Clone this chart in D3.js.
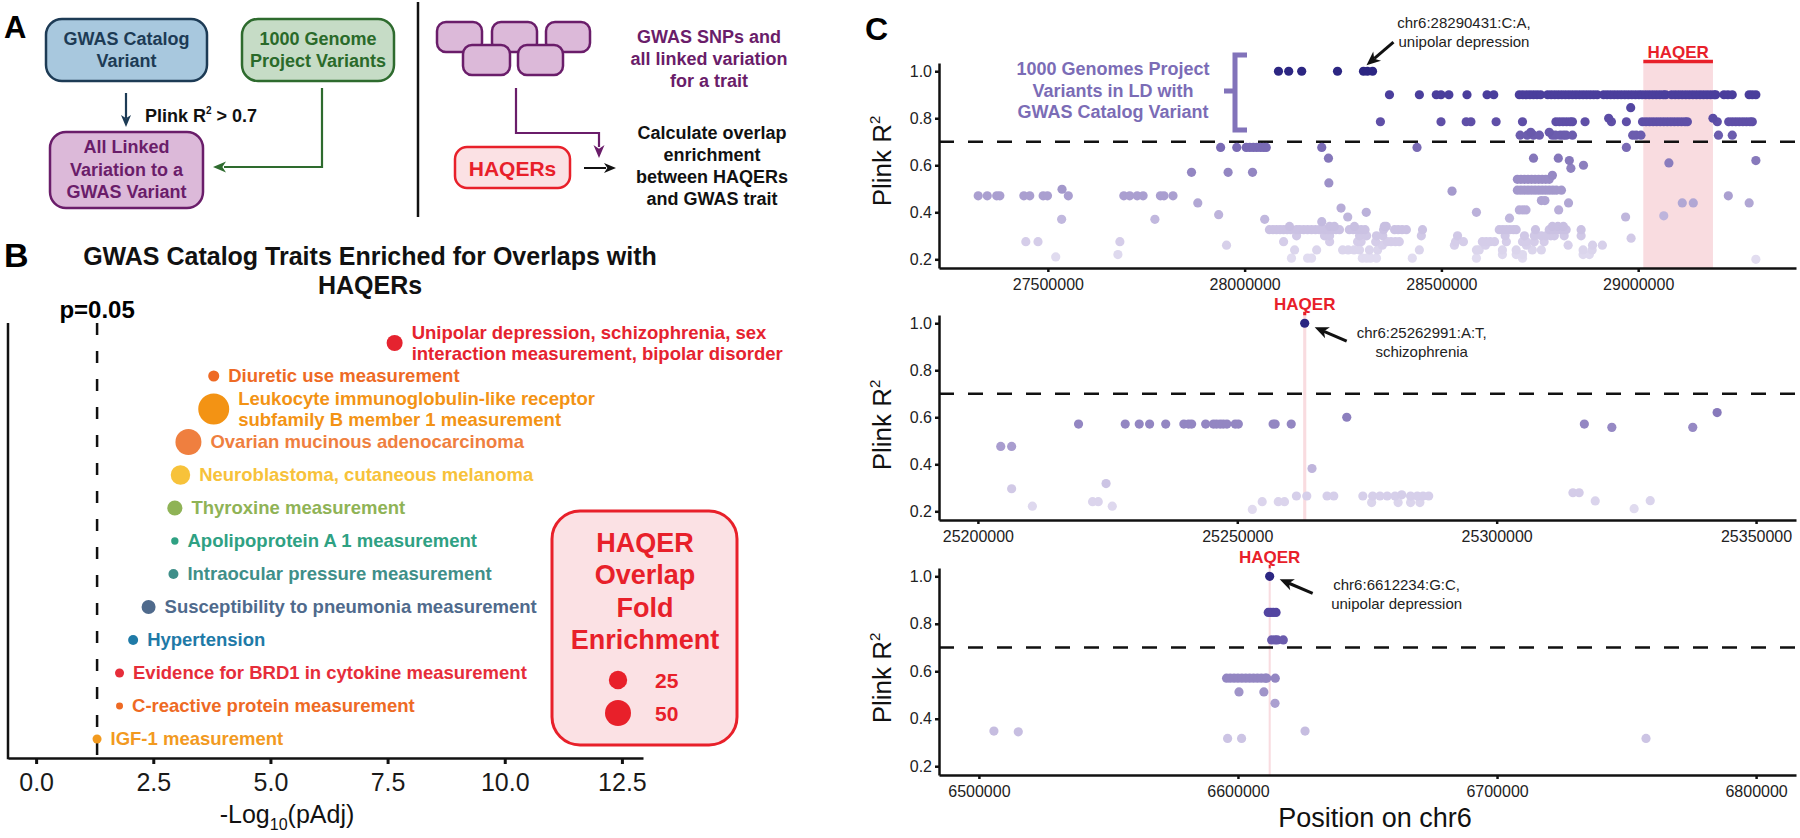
<!DOCTYPE html>
<html><head><meta charset="utf-8">
<script src="https://cdn.jsdelivr.net/npm/d3@7/dist/d3.min.js"></script>
<style>
html,body{margin:0;padding:0;background:#fff;}
svg{display:block;}
svg text{font-family:"Liberation Sans",Arial,Helvetica,sans-serif;}
</style></head><body>
<svg id="fig" width="1800" height="838"></svg>
<script>
// ================= DATA =================
// Panel B: GWAS traits enriched for HAQER overlaps
const traitLabels = [
  "Unipolar depression, schizophrenia, sex\ninteraction measurement, bipolar disorder",
  "Diuretic use measurement",
  "Leukocyte immunoglobulin-like receptor\nsubfamily B member 1 measurement",
  "Ovarian mucinous adenocarcinoma",
  "Neuroblastoma, cutaneous melanoma",
  "Thyroxine measurement",
  "Apolipoprotein A 1 measurement",
  "Intraocular pressure measurement",
  "Susceptibility to pneumonia measurement",
  "Hypertension",
  "Evidence for BRD1 in cytokine measurement",
  "C-reactive protein measurement",
  "IGF-1 measurement"
];
const traitNegLog10P = [7.65, 3.79, 3.79, 3.25, 3.08, 2.96, 2.96, 2.93, 2.40, 2.07, 1.78, 1.78, 1.30];
const traitFoldEnrichment = [19, 9, 71, 50, 28, 17, 4, 7.4, 14.5, 7.4, 6, 3.6, 6];
const sizeLegendValues = [25, 50];
const bTickValues = [0, 2.5, 5, 7.5, 10, 12.5];
const pThreshold = 0.05;

// Panel C: LD (Plink R2) of 1000 Genomes variants, positions in kb on chr6
const locusTopRows = [
  [1.0, [28086,28112,28145,28236,28302,28312,28325]],
  [0.9, [28368,28444,28487,28499,28519,28565,28616,28633,28698,28707,28716,28725,28734,28743,28752,28770,28779,28788,28797,28806,28815,28824,28833,28842,28851,28860,28869,28878,28887,28896,28912,28921,28930,28939,28948,28957,28966,28975,28984,28993,29002,29010,29019,29028,29037,29046,29055,29064,29070,29085,29094,29103,29112,29121,29130,29139,29148,29157,29166,29175,29184,29193,29197,29218,29228,29239,29282,29290,29299]],
  [0.845, [28981]],
  [0.8, [28925,29190]],
  [0.785, [28345,28499,28563,28575,28639,28706,28791,28800,28809,28818,28827,28833,28865,28932,28970,29011,29020,29029,29038,29047,29056,29065,29074,29083,29092,29101,29110,29119,29125,29201,29230,29239,29248,29257,29266,29275,29284,29290]],
  [0.74, [28727,28774]],
  [0.728, [28700,28718,28734,28749,28782,28790,28802,28810,28817,28833,28986,28995,29007,29204,29239]],
  [0.676, [27939,27980,28004,28013,28022,28031,28040,28048,28055,28196,28438,28970]],
  [0.63, [28213,28734,28797]],
  [0.62, [28825,29299]],
  [0.61, [29078]],
  [0.6, [28861]],
  [0.587, [28829]],
  [0.57, [27865,27958,28020]],
  [0.557, [28782]],
  [0.54, [28693,28702,28711,28720,28729,28738,28747,28756,28765,28774]],
  [0.525, [28214]],
  [0.498, [27536]],
  [0.494, [28693,28702,28711,28720,28729,28738,28747,28756,28765,28774,28783,28792,28805]],
  [0.49, [28527]],
  [0.47, [27323,27346,27370,27378,27439,27454,27488,27499,27552,27693,27708,27727,27742,27786,27795,27818,29229]],
  [0.45, [28754,28763]],
  [0.44, [27881,28823,29112,29140,29282]],
  [0.418, [28245]],
  [0.41, [28698,28707,28715,28798]],
  [0.40, [28309,28589]],
  [0.39, [27934]],
  [0.385, [29065]],
  [0.38, [28262,28968]],
  [0.375, [28673]],
  [0.37, [27535,27772,28051]],
  [0.36, [28196]],
  [0.34, [28114,28216,28228,28279,28355,28360,28782,28796,28810]],
  [0.326, [28063,28072,28081,28090,28099,28108,28117,28132,28140,28150,28160,28170,28180,28190,28203,28212,28222,28232,28241,28266,28276,28286,28296,28306,28353,28381,28390,28400,28411,28452,28647,28656,28665,28674,28683,28690,28739,28774,28783,28792,28801,28810,28817,28855]],
  [0.30, [28132,28203,28216,28292,28310,28335,28351,28449,28541,28662,28711,28736,28754,28766,28778,28787,28812,28855]],
  [0.29, [28982]],
  [0.275, [27444,27475,27683,28099,28216,28287,28296,28333,28362,28372,28383,28393,28536,28556,28604,28614,28624,28635,28665,28706,28716,28736,28761]],
  [0.26, [27954,28350,28533,28612,28716,28822,28884,28909]],
  [0.24, [28127,28183,28249,28263,28278,28292,28317,28338,28444,28589,28596,28655,28690,28731,28754,28860,28883]],
  [0.22, [27678,28655,28690,28706,28860,28876]],
  [0.21, [27520]],
  [0.205, [28119,28160,28170,28299,28310,28320,28335,28426,28589,28706]],
  [0.2, [29299]]
];
const locusMidRows = [
  [1.0, [25262.991]],
  [0.62, [25342.5]],
  [0.6, [25271.1]],
  [0.571, [25219.4,25228.4,25231.1,25233.1,25236.2,25239.7,25240.6,25241.2,25243.9,25245.4,25246.0,25246.7,25247.3,25248.0,25249.6,25250.2,25256.9,25257.3,25260.4,25316.9]],
  [0.557, [25322.2,25337.8]],
  [0.476, [25204.4,25206.5]],
  [0.382, [25264.4]],
  [0.318, [25224.7]],
  [0.296, [25206.5]],
  [0.279, [25314.7,25315.9]],
  [0.27, [25281.7]],
  [0.265, [25261.4,25263.4,25267.3,25268.6,25274.2,25276.1,25277.5,25278.9,25280.4,25283.4,25284.7,25285.8,25286.9]],
  [0.245, [25329.6]],
  [0.244, [25319.0]],
  [0.241, [25222.1,25223.2,25254.8,25257.9,25259.1]],
  [0.237, [25275.9,25281.0,25283.4,25285.2]],
  [0.222, [25210.5,25225.9]],
  [0.211, [25326.5]],
  [0.208, [25252.9]]
];
const locusBotRows = [
  [1.0, [6612.234]],
  [0.848, [6611.7,6612.6,6613.6,6614.7]],
  [0.732, [6613.0,6614.3,6615.2,6617.5]],
  [0.571, [6595.6,6597.0,6598.5,6600.0,6601.5,6603.0,6604.5,6606.0,6607.5,6609.0,6610.5,6611.1,6614.4]],
  [0.513, [6600.4,6610.0]],
  [0.465, [6614.3]],
  [0.348, [6505.8,6625.9]],
  [0.345, [6515.2]],
  [0.317, [6596.0,6601.4,6757.5]]
];
const haqerTop = [29013000, 29190000];
const haqerMid = [25262700, 25263300];
const haqerBot = [6611850, 6612650];
const ticksTop = [27500000, 28000000, 28500000, 29000000];
const ticksMid = [25200000, 25250000, 25300000, 25350000];
const ticksBot = [6500000, 6600000, 6700000, 6800000];
const domainTop = [27223400, 29401000];
const domainMid = [25192500, 25357700];
const domainBot = [6484600, 6815400];
const r2Ticks = [0.2, 0.4, 0.6, 0.8, 1.0];
const ldThreshold = 0.7;
const variantTop = {pos: 28302000, r2: 1.0, text: ["chr6:28290431:C:A,", "unipolar depression"]};
const variantMid = {pos: 25262991, r2: 1.0, text: ["chr6:25262991:A:T,", "schizophrenia"]};
const variantBot = {pos: 6612234, r2: 1.0, text: ["chr6:6612234:G:C,", "unipolar depression"]};

// ================= STYLES =================
const traitColors = ["#e5232f","#ee6a24","#f39314","#ef7f3f","#f7c23a","#8fb356","#2fa183","#3f8f89","#4f6a8c","#1f7aa7","#e62d3a","#ee6a24","#f29a1f"];
const RED = "#e8202a";
const ldColor = d3.scaleLinear()
  .domain([0.2,0.3,0.4,0.5,0.6,0.7,0.8,0.9,1.0])
  .range(['#e2ddf0','#d0c8e6','#bbb1da','#a397cb','#8c7fbe','#7363b1','#5b4ca5','#4a3e9c','#2c2682']);

const svg = d3.select('#fig');

function arrowHead(g, tipX, tipY, dx, dy, len, w, color){
  const L = Math.hypot(dx, dy), ux = dx/L, uy = dy/L, px = -uy, py = ux;
  const bx = tipX - ux*len, by = tipY - uy*len;
  const nx = tipX - ux*len*0.72, ny = tipY - uy*len*0.72;
  g.append('path')
    .attr('d', `M${tipX},${tipY}L${bx+px*w/2},${by+py*w/2}L${nx},${ny}L${bx-px*w/2},${by-py*w/2}Z`)
    .attr('fill', color);
  return [nx, ny];
}
function multiText(g, lines, x, y0, lh, attrs){
  const t = g.append('text').attr('x', x).attr('y', y0);
  Object.entries(attrs).forEach(([k,v]) => t.attr(k, v));
  lines.forEach((l,i) => t.append('tspan').attr('x', x).attr('y', y0 + i*lh).text(l));
  return t;
}

// ================= PANEL A =================
const gA = svg.append('g');
gA.append('text').attr('x', 4).attr('y', 38).attr('font-size', 31).attr('font-weight', 'bold').text('A');
function box(x, y, w, h, rx, fill, stroke){
  gA.append('rect').attr('x', x).attr('y', y).attr('width', w).attr('height', h).attr('rx', rx)
    .attr('fill', fill).attr('stroke', stroke).attr('stroke-width', 2.5);
}
const boldA = {'font-size': 18, 'font-weight': 'bold', 'text-anchor': 'middle'};
box(46, 19, 161, 62, 16, '#a8c8de', '#1d3b55');
multiText(gA, ['GWAS Catalog', 'Variant'], 126.5, 45, 22, {...boldA, fill: '#1d3b55'});
box(242, 19, 152, 62, 16, '#c6dcc6', '#2e6b2e');
multiText(gA, ['1000 Genome', 'Project Variants'], 318, 45, 22, {...boldA, fill: '#2a6a2a'});
box(50, 132, 153, 76, 16, '#dcb9d9', '#6a1d6a');
multiText(gA, ['All Linked', 'Variation to a', 'GWAS Variant'], 126.5, 153, 22.5, {...boldA, fill: '#6a1d6a'});
// arrow navy
gA.append('line').attr('x1', 126).attr('y1', 93).attr('x2', 126).attr('y2', 118).attr('stroke', '#1d3b55').attr('stroke-width', 2.2);
arrowHead(gA, 126, 127, 0, 1, 12, 10, '#1d3b55');
const plink = gA.append('text').attr('x', 145).attr('y', 122).attr('font-size', 18).attr('font-weight', 'bold').attr('fill', '#111');
plink.append('tspan').text('Plink R');
plink.append('tspan').attr('font-size', 10).attr('dy', -8).text('2');
plink.append('tspan').attr('dy', 8).text(' > 0.7');
// green arrow
gA.append('path').attr('d', 'M322,88V167H224').attr('fill', 'none').attr('stroke', '#2e6b2e').attr('stroke-width', 2.2);
arrowHead(gA, 213, 167, -1, 0, 13, 11, '#2e6b2e');
// divider
gA.append('line').attr('x1', 418).attr('y1', 2).attr('x2', 418).attr('y2', 217).attr('stroke', '#111').attr('stroke-width', 2.5);
// stacked purple boxes
[[437,22,45,30],[492,22,45,30],[546,22,44,30],[463,45,47,30],[518,45,45,30]].forEach(b => {
  gA.append('rect').attr('x', b[0]).attr('y', b[1]).attr('width', b[2]).attr('height', b[3]).attr('rx', 9)
    .attr('fill', '#dcb9d9').attr('stroke', '#6a1d6a').attr('stroke-width', 2.5);
});
multiText(gA, ['GWAS SNPs and', 'all linked variation', 'for a trait'], 709, 43, 22, {...boldA, fill: '#6a1d6a'});
gA.append('path').attr('d', 'M516,88V133H599V147').attr('fill', 'none').attr('stroke', '#6a1d6a').attr('stroke-width', 2.2);
arrowHead(gA, 599, 158, 0, 1, 13, 11, '#6a1d6a');
gA.append('rect').attr('x', 455).attr('y', 147).attr('width', 115).attr('height', 41).attr('rx', 12)
  .attr('fill', '#fbe1e4').attr('stroke', RED).attr('stroke-width', 2.5);
gA.append('text').attr('x', 512.5).attr('y', 175.5).attr('font-size', 21).attr('font-weight', 'bold').attr('fill', RED).attr('text-anchor', 'middle').text('HAQERs');
gA.append('line').attr('x1', 584).attr('y1', 168).attr('x2', 606).attr('y2', 168).attr('stroke', '#111').attr('stroke-width', 2);
arrowHead(gA, 616, 168, 1, 0, 12, 10, '#111');
multiText(gA, ['Calculate overlap', 'enrichment', 'between HAQERs', 'and GWAS trait'], 712, 139, 22, {...boldA, fill: '#111'});

// ================= PANEL B =================
const gB = svg.append('g');
gB.append('text').attr('x', 4).attr('y', 267).attr('font-size', 34).attr('font-weight', 'bold').text('B');
multiText(gB, ['GWAS Catalog Traits Enriched for Overlaps with', 'HAQERs'], 370, 265, 29,
  {'font-size': 25, 'font-weight': 'bold', 'text-anchor': 'middle', fill: '#111'});
const xB = d3.scaleLinear().domain([-0.6, 12.95]).range([8, 643]);
const yB = d3.scalePoint().domain(traitLabels).range([343, 739]);
const rB = d3.scaleSqrt().domain([0, 50]).range([0, 13]);
const yTopB = 323, yAxisB = 758;
// threshold line
const xThr = xB(-Math.log10(pThreshold));
gB.append('line').attr('x1', xThr).attr('x2', xThr).attr('y1', yTopB).attr('y2', yAxisB)
  .attr('stroke', '#111').attr('stroke-width', 2.5).attr('stroke-dasharray', '12,16');
gB.append('text').attr('x', xThr).attr('y', 318).attr('font-size', 24).attr('font-weight', 'bold').attr('text-anchor', 'middle').text('p=0.05');
// axes
gB.append('line').attr('x1', xB.range()[0]).attr('x2', xB.range()[0]).attr('y1', yTopB).attr('y2', yAxisB + 1.2)
  .attr('stroke', '#111').attr('stroke-width', 2.5);
const axB = gB.append('g').attr('transform', `translate(0,${yAxisB})`)
  .call(d3.axisBottom(xB).tickValues(bTickValues).tickFormat(d3.format('.1f')).tickSize(6).tickSizeOuter(0).tickPadding(9));
axB.select('.domain').attr('stroke', '#111').attr('stroke-width', 2.5);
axB.selectAll('.tick line').attr('stroke', '#111').attr('stroke-width', 3);
axB.selectAll('.tick text').attr('font-size', 25).attr('fill', '#1a1a1a').attr('font-family', '"Liberation Sans",Arial,sans-serif');
const xlab = gB.append('text').attr('x', 287).attr('y', 823).attr('font-size', 25).attr('text-anchor', 'middle').attr('fill', '#111');
xlab.append('tspan').text('-Log');
xlab.append('tspan').attr('font-size', 16).attr('dy', 7).text('10');
xlab.append('tspan').attr('dy', -7).text('(pAdj)');
// bubbles + labels
traitLabels.forEach((lab, i) => {
  const cx = xB(traitNegLog10P[i]), cy = yB(lab), r = rB(traitFoldEnrichment[i]);
  gB.append('circle').attr('cx', cx).attr('cy', cy).attr('r', r).attr('fill', traitColors[i]);
  const lines = lab.split('\n');
  const y0 = cy - (lines.length - 1) * 10.8;
  const t = gB.append('text').attr('font-size', 18.5).attr('font-weight', 'bold').attr('fill', traitColors[i]);
  lines.forEach((l, j) => t.append('tspan').attr('x', cx + r + 9).attr('y', y0 + j * 21.6).attr('dy', '0.35em').text(l));
});
// legend
gB.append('rect').attr('x', 552).attr('y', 511).attr('width', 185).attr('height', 234).attr('rx', 28)
  .attr('fill', '#fbe1e4').attr('stroke', RED).attr('stroke-width', 3);
multiText(gB, ['HAQER', 'Overlap', 'Fold', 'Enrichment'], 645, 552, 32.3,
  {'font-size': 27, 'font-weight': 'bold', 'text-anchor': 'middle', fill: RED});
sizeLegendValues.forEach((v, i) => {
  const cy = 680 + i * 33;
  gB.append('circle').attr('cx', 618).attr('cy', cy).attr('r', rB(v)).attr('fill', RED);
  gB.append('text').attr('x', 655).attr('y', cy).attr('dy', '0.36em').attr('font-size', 21).attr('font-weight', 'bold').attr('fill', RED).text(v);
});

// ================= PANEL C =================
const gC = svg.append('g');
gC.append('text').attr('x', 865).attr('y', 40).attr('font-size', 32).attr('font-weight', 'bold').text('C');
const xRangeC = [939, 1796];

function drawLocus(cfg){
  const g = gC.append('g');
  const x = d3.scaleLinear().domain(cfg.domain).range(xRangeC);
  const y = d3.scaleLinear().domain([0.163, 1.035]).range(cfg.yRange);
  const [yb, yt] = cfg.yRange;
  // HAQER region
  const hx0 = x(cfg.haqer[0]), hx1 = x(cfg.haqer[1]);
  g.append('rect').attr('x', hx0).attr('y', yt).attr('width', hx1 - hx0).attr('height', yb - yt).attr('fill', '#f9dce0');
  g.append('line').attr('x1', hx0).attr('x2', hx1).attr('y1', yt - 1.5).attr('y2', yt - 1.5).attr('stroke', RED).attr('stroke-width', 3.5);
  g.append('text').attr('x', (hx0 + hx1) / 2).attr('y', yt - 5).attr('text-anchor', 'middle')
    .attr('font-size', 17).attr('font-weight', 'bold').attr('fill', RED).text('HAQER');
  // LD threshold
  g.append('line').attr('x1', xRangeC[0]).attr('x2', xRangeC[1]).attr('y1', y(ldThreshold)).attr('y2', y(ldThreshold))
    .attr('stroke', '#111').attr('stroke-width', 2.5).attr('stroke-dasharray', '15,14');
  // points
  const pts = [];
  cfg.rows.forEach(([r2, arr]) => arr.forEach(p => pts.push({pos: p * 1000, r2})));
  pts.sort((a, b) => a.r2 - b.r2);
  g.selectAll('circle.pt').data(pts).join('circle').attr('class', 'pt')
    .attr('cx', d => x(d.pos)).attr('cy', d => y(d.r2)).attr('r', 4.6).attr('fill', d => ldColor(d.r2));
  // axes
  const ax = g.append('g').attr('transform', `translate(0,${yb})`)
    .call(d3.axisBottom(x).tickValues(cfg.ticks).tickFormat(d3.format('d')).tickSize(4).tickSizeOuter(0).tickPadding(7));
  const ay = g.append('g').attr('transform', `translate(${xRangeC[0]},0)`)
    .call(d3.axisLeft(y).tickValues(r2Ticks).tickFormat(d3.format('.1f')).tickSize(4).tickSizeOuter(0).tickPadding(3));
  [ax, ay].forEach(a => {
    a.select('.domain').attr('stroke', '#111').attr('stroke-width', 2.5);
    a.selectAll('.tick line').attr('stroke', '#111').attr('stroke-width', 2.5);
    a.selectAll('.tick text').attr('font-size', 16).attr('fill', '#222').attr('font-family', '"Liberation Sans",Arial,sans-serif');
  });
  // y label
  const yl = g.append('text').attr('transform', `translate(891,${cfg.labelY}) rotate(-90)`).attr('text-anchor', 'middle')
    .attr('font-size', 26).attr('fill', '#111');
  yl.append('tspan').text('Plink R');
  yl.append('tspan').attr('font-size', 15).attr('dy', -11).text('2');
  // variant annotation
  const v = cfg.variant, vx = x(v.pos), vy = y(v.r2);
  const a = cfg.arrow;
  const tip = [vx + a[0], vy + a[1]], tail = [vx + a[2], vy + a[3]];
  const n = arrowHead(g, tip[0], tip[1], tip[0] - tail[0], tip[1] - tail[1], 14, 12, '#111');
  g.append('line').attr('x1', tail[0]).attr('y1', tail[1]).attr('x2', n[0]).attr('y2', n[1]).attr('stroke', '#111').attr('stroke-width', 3);
  multiText(g, v.text, vx + cfg.textOff[0], vy + cfg.textOff[1], 19, {'font-size': 15, 'text-anchor': 'middle', fill: '#222'});
  return {x, y};
}

drawLocus({rows: locusTopRows, domain: domainTop, yRange: [268, 63], haqer: haqerTop, ticks: ticksTop,
  labelY: 161, variant: variantTop, arrow: [3, -6, 30, -29], textOff: [100.5, -43]});
drawLocus({rows: locusMidRows, domain: domainMid, yRange: [520, 315], haqer: haqerMid, ticks: ticksMid,
  labelY: 425, variant: variantMid, arrow: [10, 4, 42, 18], textOff: [117, 15]});
drawLocus({rows: locusBotRows, domain: domainBot, yRange: [775, 568], haqer: haqerBot, ticks: ticksBot,
  labelY: 678, variant: variantBot, arrow: [10, 3, 43, 17], textOff: [127, 14]});

// bracket annotation in top locus
const brC = '#8273ba';
gC.append('path').attr('d', 'M1247,55H1235V130H1247M1235,91H1224').attr('fill', 'none').attr('stroke', brC).attr('stroke-width', 5);
multiText(gC, ['1000 Genomes Project', 'Variants in LD with', 'GWAS Catalog Variant'], 1113, 75, 21.5,
  {'font-size': 18, 'font-weight': 'bold', 'text-anchor': 'middle', fill: '#7b6cb6'});

gC.append('text').attr('x', 1375).attr('y', 827).attr('text-anchor', 'middle').attr('font-size', 27).attr('fill', '#111').text('Position on chr6');
</script>
</body></html>
